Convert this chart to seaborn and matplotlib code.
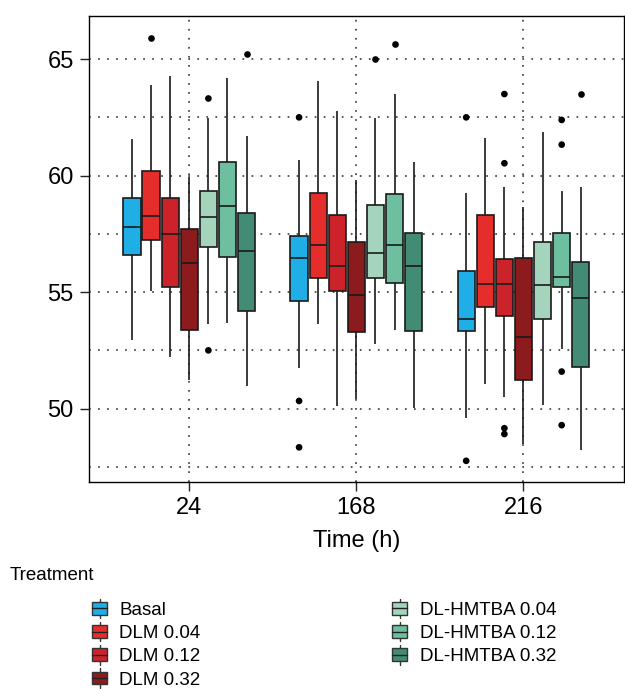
import numpy as np
import pandas as pd
import seaborn as sns
import matplotlib
matplotlib.use("Agg")
import matplotlib.pyplot as plt
from matplotlib.patches import Rectangle
from matplotlib.lines import Line2D
from matplotlib.legend_handler import HandlerBase

times = ["24", "168", "216"]
treatments = ["Basal", "DLM 0.04", "DLM 0.12", "DLM 0.32",
              "DL-HMTBA 0.04", "DL-HMTBA 0.12", "DL-HMTBA 0.32"]
colors = ["#1FAEE5", "#E52E2B", "#CC2229", "#8B1B1D",
          "#A4D4BC", "#6DBF9F", "#428B75"]

# lower whisker, Q1, median, Q3, upper whisker (one row per treatment)
stats_24 = [
    [52.93, 56.61, 57.80, 59.04, 61.57],
    [55.04, 57.23, 58.27, 60.19, 63.89],
    [52.21, 55.23, 57.49, 59.04, 64.29],
    [51.21, 53.39, 56.27, 57.70, 59.93],
    [53.64, 56.93, 58.21, 59.36, 62.47],
    [53.69, 56.49, 58.71, 60.60, 64.20],
    [50.96, 54.19, 56.76, 58.40, 61.71],
]
stats_168 = [
    [51.76, 54.61, 56.47, 57.40, 60.67],
    [53.64, 55.59, 57.04, 59.27, 64.07],
    [50.10, 55.04, 56.14, 58.29, 62.77],
    [50.40, 53.29, 54.87, 57.14, 59.83],
    [52.77, 55.59, 56.69, 58.74, 62.47],
    [53.36, 55.37, 57.04, 59.20, 63.50],
    [50.04, 53.31, 56.11, 57.53, 60.57],
]
stats_216 = [
    [49.60, 53.31, 53.83, 55.90, 59.24],
    [51.07, 54.34, 55.33, 58.30, 61.63],
    [50.50, 53.99, 55.36, 56.41, 59.50],
    [48.50, 51.21, 53.09, 56.46, 58.66],
    [50.17, 53.84, 55.30, 57.13, 61.89],
    [52.57, 55.23, 55.66, 57.53, 59.36],
    [48.24, 51.80, 54.73, 56.29, 59.50],
]

# outliers: time, treatment, value
out_time = ["24", "24", "24", "24",
            "168", "168", "168", "168", "168",
            "216", "216", "216", "216", "216", "216",
            "216", "216", "216", "216", "216"]
out_trt = ["DLM 0.04", "DL-HMTBA 0.04", "DL-HMTBA 0.04", "DL-HMTBA 0.32",
           "Basal", "Basal", "Basal", "DL-HMTBA 0.04", "DL-HMTBA 0.12",
           "Basal", "Basal", "DLM 0.12", "DLM 0.12", "DLM 0.12", "DLM 0.12",
           "DL-HMTBA 0.12", "DL-HMTBA 0.12", "DL-HMTBA 0.12", "DL-HMTBA 0.12",
           "DL-HMTBA 0.32"]
out_val = [65.90, 63.31, 52.50, 65.24,
           62.50, 50.33, 48.34, 64.99, 65.66,
           62.50, 47.76, 63.50, 60.53, 49.16, 48.91,
           62.39, 61.33, 51.59, 49.29,
           63.50]

rows = []
for t, stats in zip(times, [stats_24, stats_168, stats_216]):
    for trt, five in zip(treatments, stats):
        for v in five:
            rows.append({"time": t, "treatment": trt, "value": v})
box_df = pd.DataFrame(rows)
out_df = pd.DataFrame({"time": out_time, "treatment": out_trt, "value": out_val})

sns.set_style("ticks")
plt.rcParams["font.family"] = ["Liberation Sans", "DejaVu Sans"]
plt.rcParams["text.color"] = "black"
plt.rcParams["axes.labelcolor"] = "black"

fig = plt.figure(figsize=(6.25, 6.89), dpi=100)
ax = fig.add_axes([0.1424, 0.3004, 0.8556, 0.6764])

sns.boxplot(data=box_df, x="time", y="value", hue="treatment",
            order=times, hue_order=treatments, palette=colors,
            width=0.8, gap=0.1, whis=(0, 100), showcaps=False,
            showfliers=False, saturation=1, linecolor="#1a1a1a",
            linewidth=1.2, legend=False, ax=ax, zorder=3)
sns.stripplot(data=out_df, x="time", y="value", hue="treatment",
              order=times, hue_order=treatments,
              palette={t: "black" for t in treatments},
              dodge=True, jitter=False, size=4.8, linewidth=0,
              legend=False, ax=ax, zorder=4)

ax.set_xlim(-0.6, 2.6)
ax.set_ylim(46.85, 66.85)
ax.set_yticks([50, 55, 60, 65])
ax.set_yticks([47.5, 52.5, 57.5, 62.5], minor=True)
ax.set_xticks(range(3))
ax.set_xticklabels(times)
dots = dict(color="#444444", linestyle=(0, (1, 4.2)), linewidth=1.25)
ax.grid(True, which="both", axis="y", **dots)
ax.xaxis.grid(True, which="major", **dots)
ax.set_axisbelow(True)
for s in ax.spines.values():
    s.set_visible(True)
    s.set_color("black")
    s.set_linewidth(1.0)
ax.tick_params(which="major", direction="out", length=6.5, width=1,
               color="#222222", labelsize=17, pad=4.5, labelcolor="black")
ax.tick_params(which="minor", length=0)
ax.set_xlabel("Time (h)", fontsize=17, labelpad=8)
ax.set_ylabel("")


class BoxGlyph(HandlerBase):
    def create_artists(self, legend, orig_handle, xdescent, ydescent,
                       width, height, fontsize, trans):
        x0, y0 = -xdescent, -ydescent
        whisk = Line2D([x0 + width / 2] * 2, [y0 - 0.25 * height, y0 + 1.25 * height],
                       color="#333333", lw=1, transform=trans)
        box = Rectangle((x0, y0), width, height,
                        facecolor=orig_handle.get_facecolor(),
                        edgecolor="#333333", lw=1, transform=trans)
        mid = Line2D([x0, x0 + width], [y0 + height / 2] * 2,
                     color="#222222", lw=1, transform=trans)
        return [whisk, box, mid]


handles = [Rectangle((0, 0), 1, 1, facecolor=c) for c in colors]
fig.text(0.016, 1 - 575 / 689, "Treatment", fontsize=13.5, va="center", ha="left")
fig.legend(handles, treatments, ncol=2, loc="upper left",
           bbox_to_anchor=(0.147, 1 - 602 / 689), frameon=False,
           fontsize=13.5, handler_map={Rectangle: BoxGlyph()},
           handlelength=0.82, handleheight=0.68, handletextpad=0.65,
           labelspacing=0.33, columnspacing=10.2, borderpad=0,
           borderaxespad=0)

fig.savefig("out.png", dpi=100)
